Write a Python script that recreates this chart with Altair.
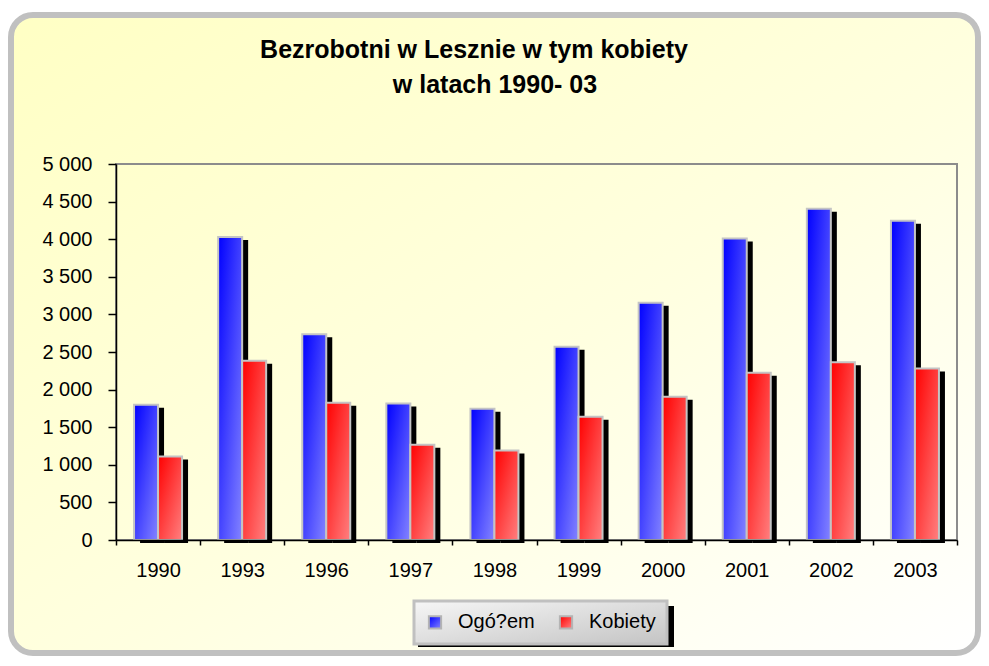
import altair as alt
import pandas as pd

# ---- data ----
years = ["1990", "1993", "1996", "1997", "1998", "1999", "2000", "2001", "2002", "2003"]
ogolem = [1800, 4030, 2735, 1815, 1745, 2570, 3155, 4010, 4405, 4245]
kobiety = [1110, 2385, 1825, 1265, 1190, 1640, 1905, 2225, 2365, 2280]
series = ["Ogó?em", "Kobiety"]
y_ticks = [0, 500, 1000, 1500, 2000, 2500, 3000, 3500, 4000, 4500, 5000]
title_lines = ["Bezrobotni w Lesznie w tym kobiety", "w latach 1990- 03"]

rows = []
for yr, a, b in zip(years, ogolem, kobiety):
    rows.append({"rok": yr, "seria": series[0], "wartosc": a})
    rows.append({"rok": yr, "seria": series[1], "wartosc": b})
df = pd.DataFrame(rows)

W, H = 841, 376
FONT = "Liberation Sans"

blue_grad = ("{gradient: 'linear', x1: 0, y1: 0, x2: 1, y2: 1, stops: ["
             "{offset: 0, color: '#0000ff'}, {offset: 1, color: '#8484ff'}]}")
red_grad = ("{gradient: 'linear', x1: 0, y1: 0, x2: 1, y2: 1, stops: ["
            "{offset: 0, color: '#ff0000'}, {offset: 1, color: '#ff8080'}]}")
legend_grad = ("{gradient: 'linear', x1: 0, y1: 0, x2: 1, y2: 1, stops: ["
               "{offset: 0, color: '#f6f6f6'}, {offset: 1, color: '#c4c4c4'}]}")

bg_grad = alt.LinearGradient(
    gradient="linear", x1=0, y1=0, x2=1, y2=1,
    stops=[alt.GradientStop(offset=0, color="#ffffc4"),
           alt.GradientStop(offset=0.55, color="#ffffe0"),
           alt.GradientStop(offset=1, color="#ffffff")],
)

one = alt.Data(values=[{}])

frame = alt.Chart(one).mark_rect(
    fill=bg_grad, stroke="#c0c0c0", strokeWidth=6, cornerRadius=22
).encode(x=alt.value(-105), x2=alt.value(862), y=alt.value(-149), y2=alt.value(489))

border = alt.Chart(one).mark_rect(
    filled=False, color="#8c8c8c", strokeWidth=2
).encode(x=alt.value(0), x2=alt.value(W), y=alt.value(0), y2=alt.value(H))

legend_shadow = alt.Chart(one).mark_rect(color="black").encode(
    x=alt.value(302), x2=alt.value(558), y=alt.value(442), y2=alt.value(483)
)

title1 = alt.Chart(one).mark_text(
    text=title_lines[0], font=FONT, fontSize=25, fontWeight="bold", color="black",
    align="center", baseline="alphabetic"
).encode(x=alt.value(358), y=alt.value(-106))
title2 = alt.Chart(one).mark_text(
    text=title_lines[1], font=FONT, fontSize=25, fontWeight="bold", color="black",
    align="center", baseline="alphabetic"
).encode(x=alt.value(379), y=alt.value(-71))

x_enc = alt.X(
    "rok:O", sort=years, title=None,
    scale=alt.Scale(paddingInner=0, paddingOuter=0),
    axis=alt.Axis(tickBand="extent", tickSize=5, labelAngle=0, labelPadding=15,
                  domainColor="black", tickColor="black", domainWidth=1.5, tickWidth=1.5,
                  labelFontSize=20, labelColor="black", labelFont=FONT, zindex=1, grid=False),
)
y_enc = alt.Y(
    "wartosc:Q", title=None,
    scale=alt.Scale(domain=[0, 5000], nice=False),
    axis=alt.Axis(values=y_ticks, labelExpr="replace(format(datum.value, ','), ',', ' ')",
                  tickSize=8, labelPadding=16, domainColor="black", tickColor="black",
                  domainWidth=1.5, tickWidth=1.5, labelFontSize=20, labelColor="black",
                  labelFont=FONT, zindex=1, grid=False),
)
color_enc = alt.Color(
    "seria:N",
    scale=alt.Scale(domain=series, range=[{"expr": blue_grad}, {"expr": red_grad}]),
    legend=alt.Legend(title=None, orient="none", legendX=298, legendY=437,
                      direction="horizontal", columns=2, symbolType="square",
                      symbolSize=150, symbolStrokeColor="#b4b4b4", symbolStrokeWidth=2,
                      labelFontSize=20, labelFont=FONT, labelColor="black",
                      labelOffset=13, columnPadding=20, padding=11,
                      fillColor={"expr": legend_grad}, strokeColor="#c0c0c0"),
)

layers = [frame, border, legend_shadow, title1, title2]
offsets = [-12, 12]
for s, off in zip(series, offsets):
    layers.append(
        alt.Chart(df).transform_filter(alt.datum.seria == s)
        .mark_bar(color="black", width=24, xOffset=off + 6, yOffset=3, y2Offset=3)
        .encode(x=x_enc, y=y_enc)
    )
for s, off in zip(series, offsets):
    layers.append(
        alt.Chart(df).transform_filter(alt.datum.seria == s)
        .mark_bar(width=24, xOffset=off, stroke="#c4c4c4", strokeWidth=2)
        .encode(x=x_enc, y=y_enc, color=color_enc)
    )

chart = alt.layer(*layers).properties(
    width=W, height=H,
    autosize=alt.AutoSizeParams(type="none"),
    padding={"left": 108, "top": 156, "right": 24, "bottom": 116},
).configure_view(stroke=None).configure_legend(strokeWidth=3)

chart.save("out.html", embed_options={"renderer": "svg", "actions": False})
